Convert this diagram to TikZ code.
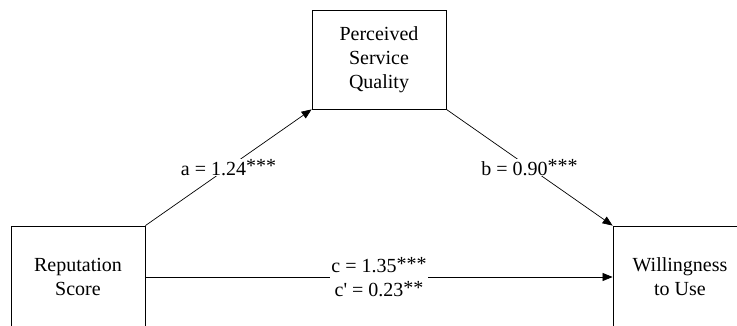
\documentclass[tikz,border=0pt]{standalone}
\usepackage{fontspec}
\setmainfont{Liberation Serif}
\usetikzlibrary{arrows.meta}

\tikzset{
  varbox/.style={draw, line width=0.8pt, minimum width=134pt, minimum height=99pt,
    align=center, inner sep=0pt, font=\fontsize{20}{24}\selectfont},
  path/.style={line width=0.7pt, -{Triangle[length=10pt,width=8pt]}},
  coef/.style={fill=white, inner sep=1pt, align=center, font=\fontsize{20}{24}\selectfont}
}
\newcommand{\sig}[1]{\raisebox{0.25ex}{#1}}

\begin{document}
\begin{tikzpicture}[x=1pt,y=1pt]

\useasboundingbox (0,0) rectangle (737,325);
\clip (0,0) rectangle (737,325);

\node[varbox] (psq) at (379,265.5) {Perceived\\Service\\Quality};
\node[varbox, minimum height=102pt] (rep) at (78,48) {Reputation\\Score};
\node[varbox, minimum height=102pt] (wtu) at (680,48) {Willingness\\to Use};

\draw[path] (rep.north east) -- node[coef] {a = 1.24\sig{***}} (psq.south west);
\draw[path] (psq.south east) -- node[coef] {b = 0.90\sig{***}} (wtu.north west);
\draw[path] (rep.east) -- node[coef] {c = 1.35\sig{***}\\c\textquotesingle{} = 0.23\sig{**}} (wtu.west);

\end{tikzpicture}
\end{document}
